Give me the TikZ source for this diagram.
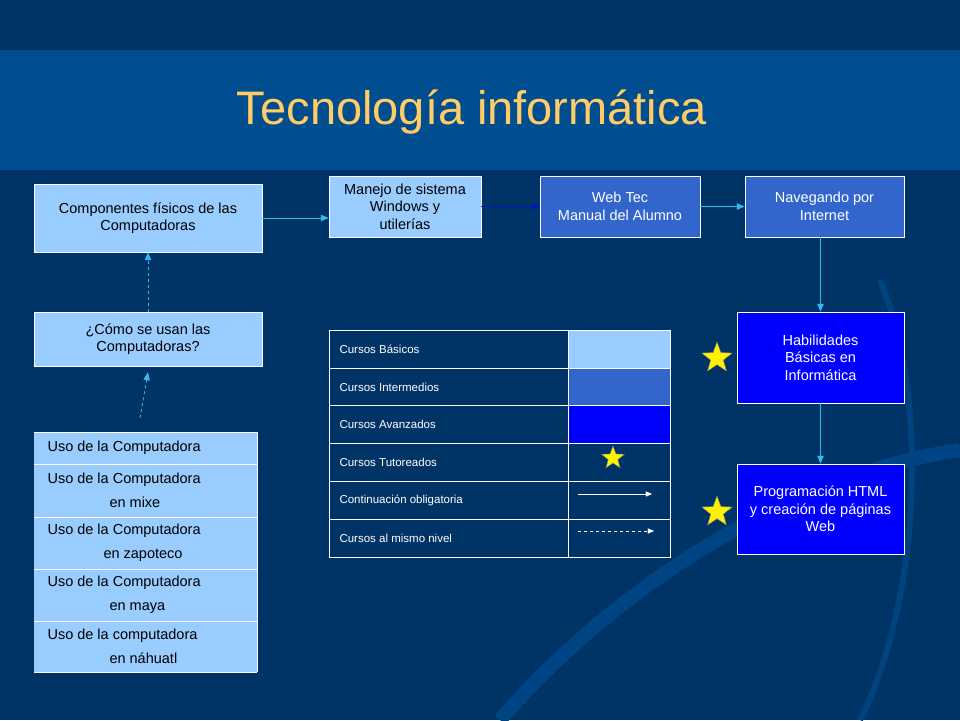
\documentclass[tikz,border=0pt]{standalone}
\usepackage{fontspec}
\setmainfont{Liberation Sans}
\usetikzlibrary{arrows,positioning,shapes.geometric}
\definecolor{bgnavy}{HTML}{003366}
\definecolor{bandblue}{HTML}{004D8F}
\definecolor{lightbox}{HTML}{99CCFF}
\definecolor{midbox}{HTML}{3366CC}
\definecolor{darkbox}{HTML}{0000FF}
\definecolor{cyanline}{HTML}{33BBEE}
\definecolor{titleorange}{HTML}{FFCC66}
\begin{document}
\begin{tikzpicture}[
    x=1pt, y=-1pt,
    box/.style={draw=white, line width=0.7pt, align=center, inner sep=0,
        font=\fontsize{14.5}{17.5}\selectfont},
    lightnode/.style={box, fill=lightbox, text=black},
    midnode/.style={box, fill=midbox, text=white},
    darknode/.style={box, fill=darkbox, text=white},
    link/.style={-triangle 45, cyanline, line width=0.8pt},
    samelevel/.style={link, dashed},
    legtext/.style={anchor=west, text=white, font=\fontsize{11.5}{14}\selectfont},
    starmark/.style={star, star points=5, star point ratio=2.4, fill=yellow, draw=gray, inner sep=0}]
% background
\useasboundingbox (0,0) rectangle (960,720);
\fill[bgnavy] (0,0) rectangle (960,720);
\fill[bandblue] (0,50) rectangle (960,170);
\begin{scope}
\clip (0,0) rectangle (960,720);
\draw[bandblue!70!bgnavy, line width=14pt] (500,720) .. controls (640,560) and (820,470) .. (960,450);
\draw[bandblue!60!bgnavy, line width=6pt] (880,280) .. controls (930,400) and (920,600) .. (860,720);
\end{scope}
\node[text=titleorange, font=\fontsize{47}{52}\selectfont] (title) at (472,112) {Tecnología informática};
% flow boxes
\node[lightnode, minimum width=228, minimum height=68] (comp) at (148,218) {Componentes físicos de las\\Computadoras};
\node[lightnode, minimum width=228, minimum height=54] (como) at (148,339) {¿Cómo se usan las\\Computadoras?};
\node[lightnode, minimum width=152, minimum height=61] (manejo) at (405,206.5) {Manejo de sistema\\Windows y\\utilerías};
\node[midnode, minimum width=160, minimum height=61] (webtec) at (620,206.5) {Web Tec\\Manual del Alumno};
\node[midnode, minimum width=159, minimum height=61] (naveg) at (824.5,206.5) {Navegando por\\Internet};
\node[darknode, minimum width=167, minimum height=91] (habil) at (820.5,357.5) {Habilidades\\Básicas en\\Informática};
\node[darknode, minimum width=167, minimum height=90] (prog) at (820.5,509) {Programación HTML\\y creación de páginas\\Web};
% language list
\fill[lightbox] (34,432) rectangle (257,672);
\foreach \ya/\yb/\txt [count=\i] in {432/464/{Uso de la Computadora},
    464/517/{Uso de la Computadora\\\hspace*{62pt}en mixe},
    517/569/{Uso de la Computadora\\\hspace*{56pt}en zapoteco},
    569/621/{Uso de la Computadora\\\hspace*{62pt}en maya},
    621/672/{Uso de la computadora\\\hspace*{62pt}en náhuatl}} {
  \draw[white, line width=0.7pt] (34,\yb) -- (257,\yb);
  \node[anchor=west, align=left, text=black, font=\fontsize{14.5}{24}\selectfont] (uso\i) at (44,{(\ya+\yb)/2}) {\txt};
}
\draw[white, line width=0.7pt] (34,432) -- (257,432) (257,432) -- (257,672);
\coordinate (listtop) at (140,418);
% legend
\foreach \txt/\ya [count=\i] in {Cursos Básicos/330, Cursos Intermedios/368, Cursos Avanzados/405,
    Cursos Tutoreados/443, Continuación obligatoria/481, Cursos al mismo nivel/519} {
  \node[legtext] (leg\i) at (336,\ya+19) {\txt};
}
\fill[lightbox] (568,330) rectangle (670,368);
\fill[midbox] (568,368) rectangle (670,405);
\fill[darkbox] (568,405) rectangle (670,443);
\draw[white, line width=0.7pt] (329,330) rectangle (670,557) (568,330) -- (568,557);
\foreach \y in {368,405,443,481,519} \draw[white, line width=0.7pt] (329,\y) -- (670,\y);
\node[starmark, minimum size=24] (legstar) at (613,458) {};
\coordinate (solidA) at (578,494); \coordinate (solidB) at (652,494);
\coordinate (dashA) at (578,531); \coordinate (dashB) at (654,531);
\draw[-triangle 45, white] (solidA) -- (solidB);
\draw[-triangle 45, white, dashed] (dashA) -- (dashB);
% stars
\node[starmark, minimum size=32] (star1) at (717,358) {};
\node[starmark, minimum size=32] (star2) at (717,512) {};
% connectors
\draw[link] (comp) -- (manejo.west |- comp);
\draw[-triangle 45, line width=0.8pt, blue!60!bgnavy] (manejo) -- (webtec);
\draw[link] (webtec) -- (naveg);
\draw[link] (naveg.south -| habil) -- (habil);
\draw[link] (habil) -- (prog);
\draw[samelevel] (como) -- (comp);
\draw[samelevel] (listtop) -- ([yshift=-6pt]como.south);
\end{tikzpicture}
\end{document}
